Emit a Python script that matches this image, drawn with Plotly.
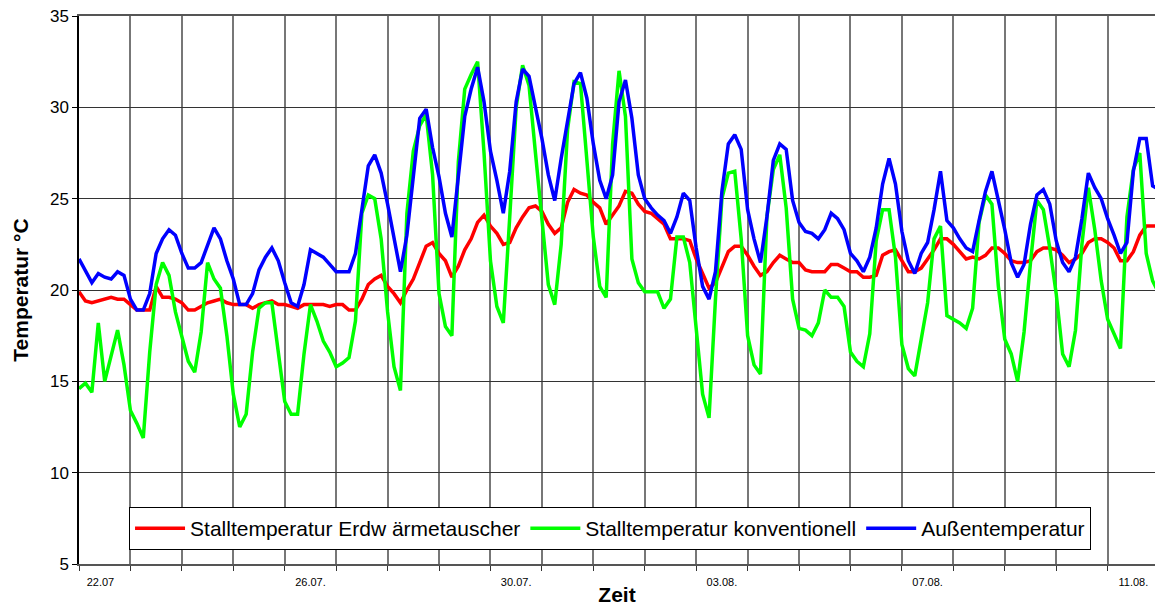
import plotly.graph_objects as go

# Stunden ab 22.07. 00:00, alle 3 Stunden ein Messwert
hours = list(range(0, 507, 3))

# Stalltemperatur Erdwärmetauscher (rot)
temp_erdw = [
    19.9, 19.4, 19.3, 19.4, 19.5, 19.6, 19.5, 19.5, 19.2, 18.9, 18.9, 18.9, 20.2, 19.6, 19.6,
    19.5, 19.3, 18.9, 18.9, 19.1, 19.3, 19.4, 19.5, 19.3, 19.2, 19.2, 19.2, 19.0, 19.2,
    19.3, 19.4, 19.2, 19.2, 19.1, 19.0, 19.2, 19.2, 19.2, 19.2, 19.1, 19.2, 19.2, 18.9,
    18.9, 19.5, 20.3, 20.6, 20.8, 20.2, 19.8, 19.3, 20.0, 20.6, 21.5, 22.4, 22.6, 22.0,
    21.6, 20.7, 21.3, 22.2, 22.8, 23.7, 24.1, 23.5, 23.1, 22.5, 22.6, 23.4, 24.0, 24.5,
    24.6, 24.3, 23.6, 23.1, 23.4, 24.8, 25.5, 25.3, 25.2, 24.8, 24.5, 23.6, 24.1, 24.6,
    25.4, 25.3, 24.7, 24.3, 24.2, 23.9, 23.6, 22.8, 22.8, 22.8, 22.7, 21.7, 20.9, 20.1,
    20.4, 21.2, 22.1, 22.4, 22.4, 21.9, 21.3, 20.8, 21.0, 21.5, 21.9, 21.7, 21.5, 21.5,
    21.1, 21.0, 21.0, 21.0, 21.4, 21.4, 21.2, 21.0, 21.0, 20.7, 20.7, 20.8, 21.9, 22.1,
    22.2, 21.6, 21.0, 21.0, 21.2, 21.7, 22.2, 22.8, 22.8, 22.5, 22.1, 21.7, 21.8, 21.7,
    21.9, 22.3, 22.3, 22.0, 21.6, 21.5, 21.5, 21.6, 22.1, 22.3, 22.3, 22.2, 21.9, 21.5,
    21.7, 22.0, 22.6, 22.8, 22.8, 22.6, 22.3, 21.6, 21.6, 22.1, 23.0, 23.5, 23.5, 23.5,
]

# Stalltemperatur konventionell (grün)
temp_konv = [
    14.6, 14.9, 14.4, 18.2, 15.0, 16.5, 17.8, 15.9, 13.4, 12.7, 11.9, 16.6, 20.3, 21.5, 20.8,
    18.8, 17.4, 16.1, 15.5, 17.7, 21.5, 20.6, 20.1, 17.5, 14.3, 12.5, 13.2, 16.6, 19.0,
    19.3, 19.3, 16.5, 13.9, 13.2, 13.2, 16.5, 19.2, 18.3, 17.2, 16.6, 15.8, 16.0, 16.3,
    18.3, 24.2, 25.2, 25.0, 22.8, 18.8, 15.8, 14.5, 24.2, 27.6, 29.0, 29.6, 26.3, 19.8,
    18.0, 17.5, 27.0, 31.0, 31.8, 32.5, 27.5, 21.6, 19.1, 18.2, 24.0, 30.0, 32.3, 31.2,
    27.5, 23.8, 20.3, 19.2, 22.5, 28.8, 31.4, 31.3, 27.2, 22.9, 20.2, 19.6, 28.0, 32.0,
    29.5, 21.7, 20.4, 19.9, 19.9, 19.9, 19.0, 19.5, 22.9, 22.9, 21.5, 18.0, 14.3, 13.0,
    19.5, 25.0, 26.4, 26.5, 22.8, 17.5, 15.9, 15.4, 24.0, 26.6, 27.4, 24.5, 19.5, 17.9,
    17.8, 17.5, 18.2, 20.0, 19.6, 19.6, 19.1, 16.6, 16.1, 15.8, 17.6, 22.7, 24.4, 24.4,
    21.8, 17.0, 15.7, 15.3, 17.2, 19.3, 22.8, 23.5, 18.6, 18.4, 18.2, 17.9, 19.0, 23.7,
    25.2, 24.7, 20.2, 17.3, 16.5, 15.0, 17.7, 21.5, 24.9, 24.4, 22.3, 19.8, 16.5, 15.8,
    17.8, 22.5, 25.6, 23.3, 20.5, 18.4, 17.6, 16.8, 24.0, 26.6, 27.5, 22.0, 20.5, 19.8,
]

# Außentemperatur (blau)
temp_aussen = [
    21.7, 21.0, 20.4, 20.9, 20.7, 20.6, 21.0, 20.8, 19.5, 18.9, 18.9, 19.8, 22.0, 22.8, 23.3,
    23.0, 22.0, 21.2, 21.2, 21.5, 22.5, 23.4, 22.8, 21.6, 20.6, 19.2, 19.2, 19.8, 21.1,
    21.8, 22.3, 21.6, 20.4, 19.3, 19.1, 20.3, 22.2, 22.0, 21.8, 21.4, 21.0, 21.0, 21.0,
    22.0, 24.5, 26.8, 27.4, 26.4, 24.7, 22.8, 21.0, 23.0, 26.4, 29.4, 29.9, 27.8, 26.2,
    24.2, 22.9, 26.2, 29.5, 31.0, 32.2, 30.3, 27.6, 26.0, 24.2, 26.5, 30.3, 32.1, 31.7,
    30.0, 28.3, 26.3, 24.9, 27.2, 29.4, 31.3, 31.9, 30.5, 28.0, 26.0, 25.0, 26.3, 30.3,
    31.5, 29.4, 26.3, 25.0, 24.5, 24.1, 23.8, 23.1, 24.0, 25.3, 24.9, 22.3, 20.2, 19.5,
    21.0, 25.4, 28.0, 28.5, 27.7, 24.4, 22.8, 21.5, 24.0, 27.1, 28.0, 27.7, 24.9, 23.7,
    23.2, 23.1, 22.8, 23.3, 24.2, 23.9, 23.3, 22.0, 21.6, 21.0, 21.8, 23.4, 25.8, 27.2,
    25.8, 23.2, 21.6, 20.9, 22.0, 22.6, 24.4, 26.5, 23.8, 23.4, 22.8, 22.3, 22.1, 23.8,
    25.4, 26.5, 25.0, 23.3, 21.5, 20.7, 21.4, 23.6, 25.2, 25.5, 24.7, 22.7, 21.5, 21.0,
    21.8, 23.9, 26.4, 25.6, 25.0, 23.9, 23.0, 22.0, 22.6, 26.5, 28.3, 28.3, 25.7, 25.5,
]

tick_hours = [10, 108, 204, 300, 396, 492]
tick_labels = ["22.07", "26.07.", "30.07.", "03.08.", "07.08.", "11.08."]

font = "Liberation Sans, Arial, sans-serif"

fig = go.Figure()
fig.add_trace(go.Scatter(x=hours, y=temp_erdw, mode="lines",
                         name="Stalltemperatur Erdw ärmetauscher",
                         line=dict(color="#ff0000", width=3.5)))
fig.add_trace(go.Scatter(x=hours, y=temp_konv, mode="lines",
                         name="Stalltemperatur konventionell",
                         line=dict(color="#00ff00", width=3.5)))
fig.add_trace(go.Scatter(x=hours, y=temp_aussen, mode="lines",
                         name="Außentemperatur",
                         line=dict(color="#0000ff", width=3.5)))

fig.update_xaxes(
    range=[0, 502.1], automargin=False,
    tickvals=tick_hours, ticktext=tick_labels,
    ticks="outside", ticklen=7, tickcolor="rgba(0,0,0,0)",
    tickfont=dict(family=font, size=11, color="#000"),
    showgrid=False, zeroline=False,
    showline=True, linecolor="#555", linewidth=2, mirror=True,
    minor=dict(tick0=0, dtick=24, showgrid=True, gridcolor="#777", gridwidth=1.5,
               ticks="outside", ticklen=5, tickcolor="#333"),
    title=dict(text="<b>Zeit</b>", font=dict(family=font, size=21, color="#000"),
               standoff=0),
)
fig.update_yaxes(
    range=[5, 35], dtick=5, automargin=False,
    ticks="outside", ticklen=5, tickcolor="#000",
    tickfont=dict(family=font, size=17, color="#000"),
    showgrid=True, gridcolor="#333", gridwidth=1, zeroline=False,
    showline=True, linecolor="#000", linewidth=1.5,
    title=dict(text="<b>Temperatur °C</b>", font=dict(family=font, size=21, color="#000"),
               standoff=16),
)
fig.update_layout(
    width=1155, height=607, autosize=False,
    margin=dict(l=79, r=0, t=16, b=43),
    paper_bgcolor="white", plot_bgcolor="white",
    font=dict(family=font, color="#000"),
    legend=dict(orientation="h", x=0.0465, xanchor="left", y=0.104, yanchor="top",
                bgcolor="white", bordercolor="#000", borderwidth=1, itemwidth=50,
                font=dict(family=font, size=21, color="#000")),
)

# Seitenrand entfernen, damit die Grafik bündig im Fenster sitzt
fig.write_html("out.html", config={"displayModeBar": False},
               post_script="document.body.style.margin='0';")
